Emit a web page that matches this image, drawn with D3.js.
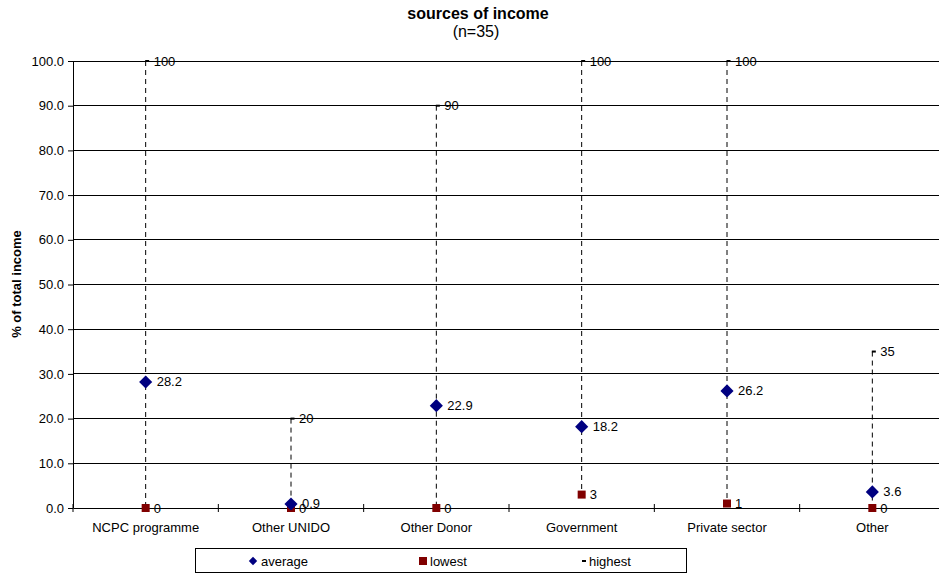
<!DOCTYPE html>
<html><head><meta charset="utf-8">
<script src="https://cdn.jsdelivr.net/npm/d3@7"></script>
<style>body{margin:0;background:#fff;font-family:"Liberation Sans",Arial,sans-serif;}</style>
</head><body><svg id="c" width="939" height="573"></svg>
<script>
const categories = ["NCPC programme","Other UNIDO","Other Donor","Government","Private sector","Other"];
const average = [28.2, 0.9, 22.9, 18.2, 26.2, 3.6];
const lowest = [0, 0, 0, 3, 1, 0];
const highest = [100, 20, 90, 100, 100, 35];
const yTicks = [0,10,20,30,40,50,60,70,80,90,100];

const svg = d3.select("#c");
const L = 73, R = 945, T = 61, B = 508;
const FS = 13;
const x = d3.scaleBand().domain(categories).range([L, R]);
const y = d3.scaleLinear().domain([0, 100]).range([B, T]);

// gridlines
svg.append("g").selectAll("line").data(yTicks.slice(1)).join("line")
  .attr("x1", L).attr("x2", R).attr("y1", d=>y(d)).attr("y2", d=>y(d))
  .attr("stroke", "#000").attr("stroke-width", 1).attr("shape-rendering","crispEdges");

// y axis
const ya = svg.append("g").attr("transform", `translate(${L},0)`)
  .call(d3.axisLeft(y).tickValues(yTicks).tickFormat(d3.format(".1f")).tickSize(5).tickSizeOuter(0));
ya.select(".domain").attr("stroke","#000");
ya.selectAll("text").attr("font-size", FS).attr("font-family","Liberation Sans, Arial").attr("fill","#000").attr("dx", -1);
ya.selectAll("line").attr("stroke","#000");

// x axis
const xa = svg.append("g").attr("transform", `translate(0,${B})`)
  .call(d3.axisBottom(x).tickSize(0).tickSizeOuter(0));
xa.select(".domain").attr("stroke","#000");
xa.selectAll("text").attr("font-size", FS).attr("font-family","Liberation Sans, Arial").attr("fill","#000")
  .attr("y", 15).attr("dy", "0.71em");
// category separator ticks
const seps = d3.range(categories.length + 1).map(i => L + i * x.step());
svg.append("g").selectAll("line").data(seps).join("line")
  .attr("x1", d=>d).attr("x2", d=>d).attr("y1", B-4).attr("y2", B+4).attr("stroke","#000");

const cx = c => x(c) + x.bandwidth()/2;

// dashed lines from highest to lowest
svg.append("g").selectAll("line").data(categories).join("line")
  .attr("x1", c=>cx(c)).attr("x2", c=>cx(c))
  .attr("y1", (c,i)=>y(highest[i])).attr("y2", (c,i)=>y(lowest[i]))
  .attr("stroke","#000").attr("stroke-width",1).attr("stroke-dasharray","5,4");

// highest markers
svg.append("g").selectAll("rect").data(categories).join("rect")
  .attr("x", c=>cx(c)-0.5).attr("y", (c,i)=>y(highest[i])-1).attr("width",4).attr("height",2).attr("fill","#000");
svg.append("g").selectAll("text").data(categories).join("text")
  .attr("x", c=>cx(c)+8).attr("y", (c,i)=>y(highest[i])+4.5)
  .attr("font-size",FS).text((c,i)=>highest[i]);

// lowest markers
svg.append("g").selectAll("rect").data(categories).join("rect")
  .attr("x", c=>cx(c)-4).attr("y", (c,i)=>y(lowest[i])-4).attr("width",8).attr("height",8).attr("fill","#800000");
svg.append("g").selectAll("text").data(categories).join("text")
  .attr("x", c=>cx(c)+8).attr("y", (c,i)=>y(lowest[i])+4.5)
  .attr("font-size",FS).text((c,i)=>lowest[i]);

// average markers
const dia = d3.symbol().type(d3.symbolDiamond2).size(110);
svg.append("g").selectAll("path").data(categories).join("path")
  .attr("transform", (c,i)=>`translate(${cx(c)},${y(average[i])})`)
  .attr("d", dia).attr("fill","#000080");
svg.append("g").selectAll("text").data(categories).join("text")
  .attr("x", c=>cx(c)+11).attr("y", (c,i)=>y(average[i])+4.5)
  .attr("font-size",FS).text((c,i)=>average[i].toFixed(1));

// title
svg.append("text").attr("x", 478).attr("y", 19).attr("text-anchor","middle")
  .attr("font-size",16).attr("font-weight","bold").text("sources of income");
svg.append("text").attr("x", 476).attr("y", 37).attr("text-anchor","middle")
  .attr("font-size",16).text("(n=35)");

// y title
svg.append("text").attr("transform","translate(21,284) rotate(-90)").attr("text-anchor","middle")
  .attr("font-size",13).attr("font-weight","bold").text("% of total income");

// legend
const lg = svg.append("g");
lg.append("rect").attr("x",195.5).attr("y",548.5).attr("width",491).attr("height",24)
  .attr("fill","#fff").attr("stroke","#000");
lg.append("path").attr("transform","translate(253,561)").attr("d", d3.symbol().type(d3.symbolDiamond2).size(45)).attr("fill","#000080");
lg.append("text").attr("x",261).attr("y",566).attr("font-size",FS).text("average");
lg.append("rect").attr("x",419).attr("y",557).attr("width",8).attr("height",8).attr("fill","#800000");
lg.append("text").attr("x",430).attr("y",566).attr("font-size",FS).text("lowest");
lg.append("rect").attr("x",582).attr("y",560).attr("width",4).attr("height",2).attr("fill","#000");
lg.append("text").attr("x",589).attr("y",566).attr("font-size",FS).text("highest");
</script></body></html>
